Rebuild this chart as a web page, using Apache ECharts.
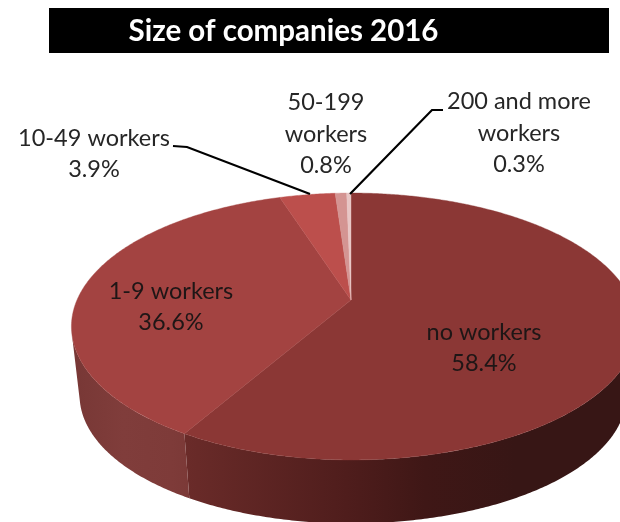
<!DOCTYPE html>
<html>
<head>
<meta charset="utf-8">
<style>html,body{margin:0;padding:0;background:#fff}#c{width:620px;height:522px}</style>
<script src="https://cdn.jsdelivr.net/npm/echarts@6/dist/echarts.min.js"></script>
</head>
<body>
<div id="c"></div>
<script>
const categories = ['no workers', '1-9 workers', '10-49 workers', '50-199 workers', '200 and more workers'];
const shares = [58.4, 36.6, 3.9, 0.8, 0.3];
const labelLines = [['no workers'], ['1-9 workers'], ['10-49 workers'], ['50-199', 'workers'], ['200 and more', 'workers']];
const sliceColors = ['#8b3735', '#a34341', '#bc4f4c', '#d49492', '#e8c6c5'];

const labelAnchors = [[484, 348], [171, 307], [94, 154], [326, 134], [519, 133]];
const wallGradients = [
  [[0, '#6a2b29'], [0.37, '#4f1d1c'], [0.55, '#3f1716'], [0.76, '#371615'], [1, '#371615']],
  [[0, '#773735'], [0.45, '#803d3b'], [0.85, '#7e3b39'], [1, '#7b3937']]
];
const wallSpans = [[186, 620], [69, 190]];
const wallVisible = [100, 255];

const total = shares.reduce((a, b) => a + b, 0);
const K = 0.1985;
const TOP = {x: 351, y: 300, rxL: 274, rxR: 280, ry: 128.2};
const BOTTOM = {x: 351, y: 370, rxL: 266, rxR: 270, ry: 123};
function project(deg, f) {
  const a = deg * Math.PI / 180, u = Math.sin(a), v = -Math.cos(a), s = 1 / (1 - K * v);
  return [f.x + (u < 0 ? f.rxL : f.rxR) * u * s, f.y + f.ry * v * s];
}
function sliceRange(i) {
  let c = 0;
  for (let j = 0; j < i; j++) c += shares[j];
  return [c / total * 360, (c + shares[i]) / total * 360];
}
function arc(a0, a1, f) {
  const pts = [], n = Math.max(2, Math.ceil((a1 - a0) * 2));
  for (let k = 0; k <= n; k++) pts.push(project(a0 + (a1 - a0) * k / n, f));
  return pts;
}
function renderWall(params, api) {
  const i = api.value(0);
  const [a0, a1] = sliceRange(i);
  const from = Math.max(a0, wallVisible[0]), to = Math.min(a1, wallVisible[1]);
  if (to <= from) return null;
  const [x0, x1] = wallSpans[i];
  return {
    type: 'polygon',
    shape: {points: arc(from, to, TOP).concat(arc(from, to, BOTTOM).reverse())},
    style: {
      fill: new echarts.graphic.LinearGradient(x0, 0, x1, 0,
        wallGradients[i].map(s => ({offset: s[0], color: s[1]})), true)
    }
  };
}
function renderTop(params, api) {
  const i = api.value(0);
  const [a0, a1] = sliceRange(i);
  return {
    type: 'polygon',
    shape: {points: [[TOP.x, TOP.y]].concat(arc(a0, a1, TOP))},
    style: {fill: sliceColors[i], stroke: sliceColors[i], lineWidth: 0.4}
  };
}
function renderLabel(params, api) {
  const i = api.value(0);
  const text = labelLines[i].concat([shares[i].toFixed(1) + '%']).join('\n');
  return {
    type: 'text',
    x: labelAnchors[i][0],
    y: labelAnchors[i][1],
    style: {
      text, fill: i < 2 ? '#1e1616' : '#262626', font: '23.5px Lato, sans-serif',
      lineHeight: 31.5, align: 'center', verticalAlign: 'middle'
    }
  };
}
const indexData = shares.map((v, i) => ({name: categories[i], value: [i, v]}));
const chart = echarts.init(document.getElementById('c'), null, {renderer: 'canvas', width: 620, height: 522});
chart.setOption({
  animation: false,
  backgroundColor: '#fff',
  series: [
    {type: 'custom', coordinateSystem: 'none', silent: true, z: 1, clip: false, data: indexData, renderItem: renderWall},
    {type: 'custom', coordinateSystem: 'none', silent: true, z: 2, clip: false, data: indexData, renderItem: renderTop},
    {type: 'custom', coordinateSystem: 'none', silent: true, z: 4, clip: false, data: indexData, renderItem: renderLabel}
  ],
  graphic: [
    {type: 'rect', z: 5, shape: {x: 49, y: 8, width: 560, height: 45}, style: {fill: '#000'}},
    {type: 'text', z: 6, x: 283.5, y: 31, style: {text: 'Size of companies 2016', fill: '#fff', font: 'bold 29.5px Lato, sans-serif', align: 'center', verticalAlign: 'middle'}},
    {type: 'polyline', z: 3, shape: {points: [[173, 146], [187, 147], [310, 194]]}, style: {stroke: '#000', lineWidth: 2.2, fill: null}},
    {type: 'polyline', z: 3, shape: {points: [[443, 110], [432, 110], [350, 194]]}, style: {stroke: '#000', lineWidth: 2.2, fill: null}}
  ]
});
</script>
</body>
</html>
